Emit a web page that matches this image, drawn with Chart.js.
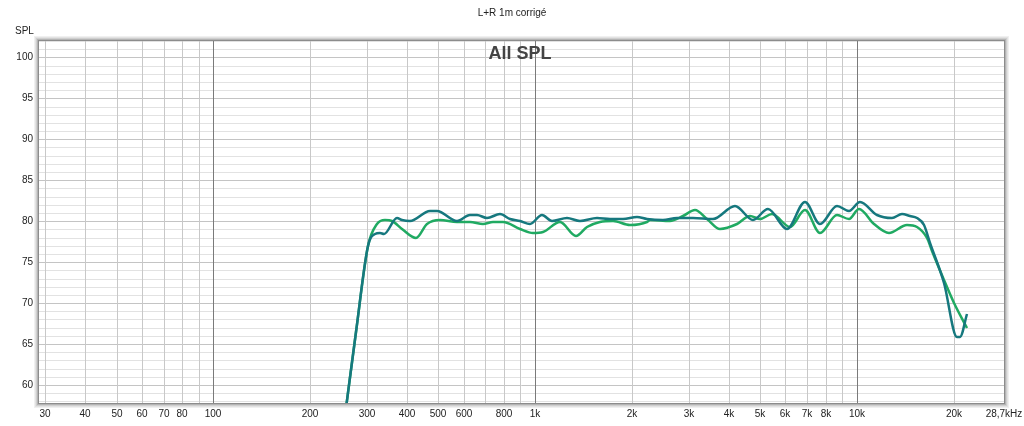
<!DOCTYPE html>
<html>
<head>
<meta charset="utf-8">
<script src="https://cdn.jsdelivr.net/npm/chart.js@4/dist/chart.umd.min.js"></script>
<style>
html,body{margin:0;padding:0;background:#fff;}
#wrap{width:1024px;height:426px;}
</style>
</head>
<body>
<div id="wrap"><canvas id="c" width="1024" height="426"></canvas></div>
<script>
// ---- data ----
const tealFreq = [259, 277, 303, 318, 330, 340, 371, 385, 408, 471, 495, 571, 628, 659, 708, 778, 836, 898, 965, 1049, 1127, 1255, 1380, 1555, 1711, 1882, 2072, 2225, 2506, 2759, 3108, 3586, 4189, 4775, 5318, 6066, 6916, 7700, 8679, 9430, 10250, 11560, 12870, 13820, 14670, 15390, 16140, 16930, 18620, 20500, 20980, 22000];
const tealSpl  = [57.2, 66.5, 77.0, 78.4, 78.6, 78.4, 80.4, 80.2, 80.0, 81.3, 81.2, 80.0, 80.8, 80.8, 80.4, 80.9, 80.3, 80.0, 79.7, 80.8, 80.0, 80.4, 80.0, 80.4, 80.3, 80.3, 80.5, 80.3, 80.2, 80.4, 80.4, 80.3, 81.8, 80.2, 81.5, 79.1, 82.3, 79.7, 81.8, 81.2, 82.3, 80.7, 80.4, 80.9, 80.6, 80.4, 79.5, 77.3, 72.4, 65.9, 65.9, 68.7];

const greenFreq = [259, 277, 303, 322, 342, 358, 385, 426, 460, 506, 571, 628, 691, 742, 797, 898, 988, 1061, 1196, 1341, 1448, 1593, 1753, 1975, 2225, 2279, 2630, 2893, 3146, 3420, 3762, 4240, 4665, 5010, 5448, 6212, 6916, 7700, 8679, 9430, 10130, 11280, 12560, 14330, 15390, 16540, 17140, 18620, 20000, 22000];
const greenSpl  = [57.2, 66.5, 77.0, 79.6, 80.2, 80.0, 79.1, 78.0, 79.6, 80.2, 79.96, 79.9, 79.6, 79.9, 79.96, 79.1, 78.5, 78.7, 79.96, 78.2, 79.3, 79.9, 80.0, 79.5, 79.96, 80.2, 80.0, 80.6, 81.4, 80.3, 79.1, 79.7, 80.6, 80.3, 80.9, 79.3, 81.4, 78.6, 80.8, 80.3, 81.5, 79.7, 78.5, 79.5, 79.3, 77.9, 76.4, 72.8, 70.0, 67.0];

const xGridValues = [30,40,50,60,70,80,90,100,200,300,400,500,600,700,800,900,1000,2000,3000,4000,5000,6000,7000,8000,9000,10000,20000,28700];
const xLabels = {30:'30',40:'40',50:'50',60:'60',70:'70',80:'80',100:'100',200:'200',300:'300',400:'400',500:'500',600:'600',800:'800',1000:'1k',2000:'2k',3000:'3k',4000:'4k',5000:'5k',6000:'6k',7000:'7k',8000:'8k',10000:'10k',20000:'20k',28700:'28,7kHz'};
const yTickStep = 5;
const chartTitle = 'L+R 1m corrigé';
const yAxisName = 'SPL';
const innerLabel = 'All SPL';

function pts(f, v){ return f.map((x,i)=>({x:x, y:v[i]})); }

Chart.defaults.font.family = "'Liberation Sans', Arial, sans-serif";
Chart.defaults.font.size = 10;
Chart.defaults.color = '#222';

const decorations = {
  id:'decorations',
  beforeDraw(chart){
    const ctx = chart.ctx;
    ctx.save();
    ctx.fillStyle = '#fff';
    ctx.fillRect(0,0,chart.width,chart.height);
    ctx.restore();
  },
  afterDatasetsDraw(chart){
    const ctx = chart.ctx, a = chart.chartArea;
    ctx.save();
    // sunken frame shadow
    const shades = ['#8c8c8c','#b4b4b4','#cfcfcf','#e2e2e2','#f0f0f0'];
    ctx.lineWidth = 1;
    shades.forEach((c,i)=>{
      ctx.strokeStyle = c;
      ctx.strokeRect(Math.round(a.left)-0.5-i, Math.round(a.top)-0.5-i, Math.round(a.right-a.left)+1+2*i, Math.round(a.bottom-a.top)+1+2*i);
    });
    // inner label
    ctx.fillStyle = '#444';
    ctx.font = "bold 18px 'Liberation Sans', Arial, sans-serif";
    ctx.textAlign = 'center';
    ctx.textBaseline = 'middle';
    ctx.fillText(innerLabel, 520, 54);
    // title
    ctx.fillStyle = '#222';
    ctx.font = "10px 'Liberation Sans', Arial, sans-serif";
    ctx.fillText(chartTitle, 512, 13);
    // axis name
    ctx.textAlign = 'left';
    ctx.fillText(yAxisName, 15, 31);
    ctx.restore();
  }
};

new Chart(document.getElementById('c'), {
  type:'line',
  data:{
    datasets:[
      {label:'L+R', data:pts(tealFreq, tealSpl), borderColor:'rgb(22,120,126)', borderWidth:2.5, pointRadius:0, cubicInterpolationMode:'monotone', clip:0, fill:false},
      {label:'L+R corr', data:pts(greenFreq, greenSpl), borderColor:'rgb(32,170,98)', borderWidth:2.5, pointRadius:0, cubicInterpolationMode:'monotone', clip:0, fill:false}
    ]
  },
  options:{
    responsive:false,
    animation:false,
    layout:{padding:{left:0,right:20,top:41,bottom:0}},
    plugins:{legend:{display:false}, title:{display:false}, tooltip:{enabled:false}},
    scales:{
      x:{
        type:'logarithmic', min:28.7, max:28700,
        alignToPixels:true,
        afterBuildTicks(s){ s.ticks = xGridValues.map(v=>({value:v})); },
        afterFit(s){ s.height = 23; s.paddingLeft = 0; s.paddingRight = 0; },
        ticks:{autoSkip:false, maxRotation:0, padding:5, color:'#222',
          callback(v){ return xLabels[v] !== undefined ? xLabels[v] : ''; }},
        grid:{drawTicks:false, lineWidth:1, z:-1,
          color(c){ const v = c.tick && c.tick.value; return (v===100||v===1000||v===10000) ? '#7a7a7a' : '#c8c8c8'; }},
        border:{display:false}
      },
      y:{
        type:'linear', min:57.8, max:102,
        alignToPixels:true,
        afterFit(s){ s.width = 39; s.paddingTop = 0; s.paddingBottom = 0; },
        ticks:{stepSize:1, includeBounds:false, padding:6, color:'#222', autoSkip:false,
          callback(v){ return (v % yTickStep === 0) ? String(v) : ''; }},
        grid:{drawTicks:false, lineWidth:1, z:-2,
          color(c){ const v = c.tick && c.tick.value; return (v % yTickStep === 0) ? '#c4c4c4' : '#e2e2e2'; }},
        border:{display:false}
      }
    }
  },
  plugins:[decorations]
});
</script>
</body>
</html>
